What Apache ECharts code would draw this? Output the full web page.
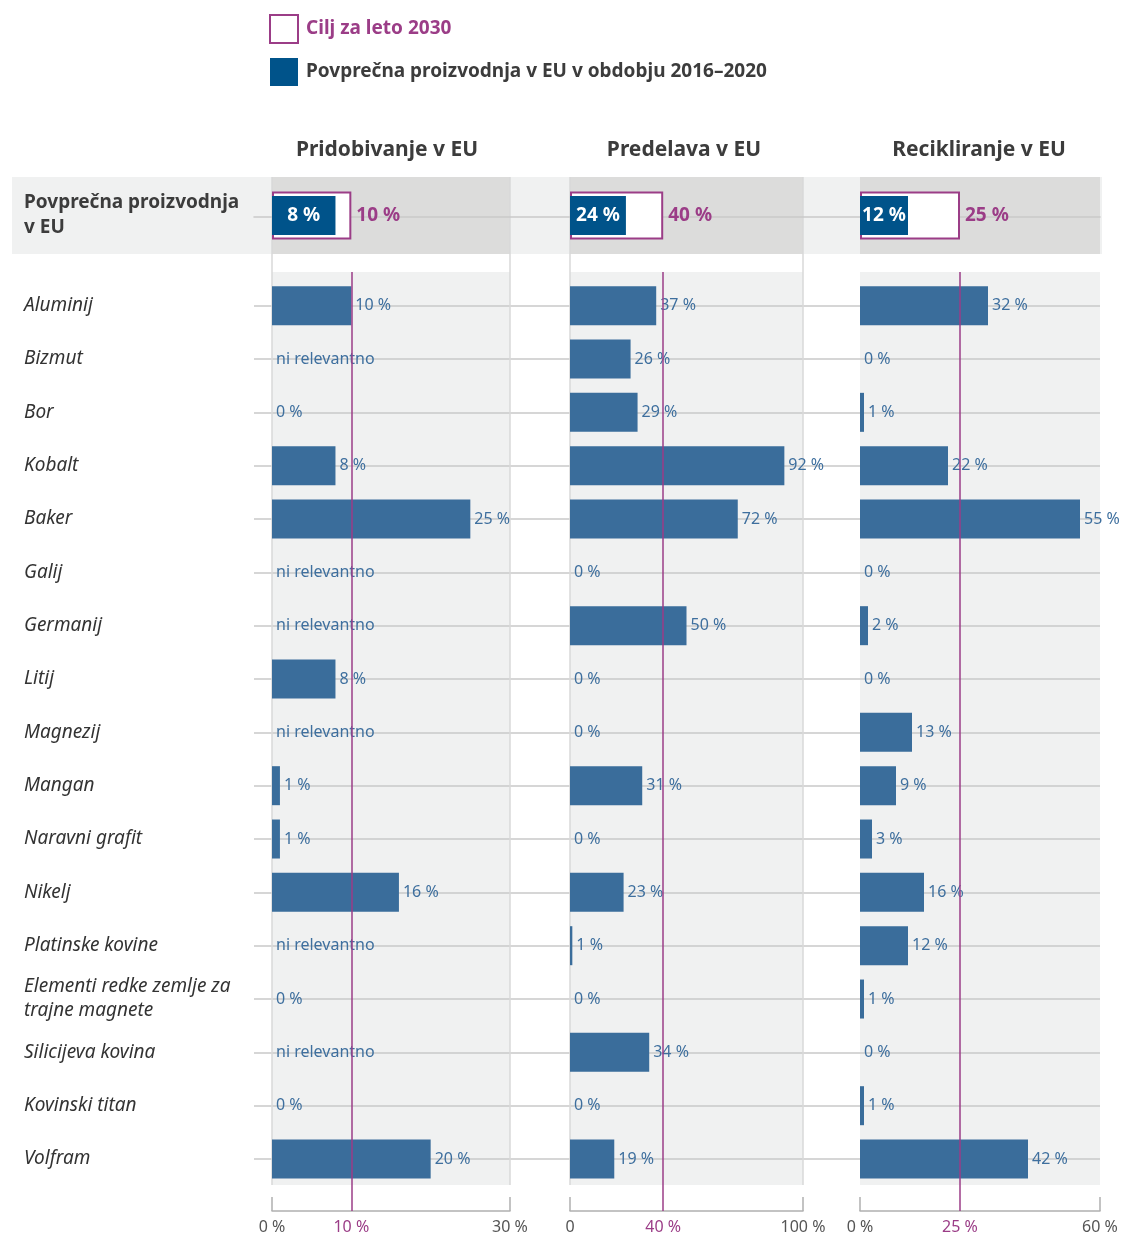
<!DOCTYPE html>
<html><head><meta charset="utf-8">
<script src="https://cdn.jsdelivr.net/npm/echarts@6/dist/echarts.min.js"></script>
<style>html,body{margin:0;padding:0;background:#fff}#c{width:1121px;height:1235px}</style>
</head><body><div id="c"></div>
<script>
// ---- data ----
const categories = ['Aluminij','Bizmut','Bor','Kobalt','Baker','Galij','Germanij','Litij','Magnezij','Mangan','Naravni grafit','Nikelj','Platinske kovine','Elementi redke zemlje za\ntrajne magnete','Silicijeva kovina','Kovinski titan','Volfram'];
const panelTitles = ['Pridobivanje v EU','Predelava v EU','Recikliranje v EU'];
const extraction = [10,null,0,8,25,null,null,8,null,1,1,16,null,0,null,0,20];
const processing = [37,26,29,92,72,0,50,0,0,31,0,23,1,0,34,0,19];
const recycling  = [32,0,1,22,55,0,2,0,13,9,3,16,12,1,0,1,42];
const avgProduction = [8,24,12];
const target2030 = [10,40,25];
const axisMax = [30,100,60];
const zeroLabels = ['0 %','0','0 %'];
const summaryLabel = 'Povprečna proizvodnja\nv EU';
const legendTarget = 'Cilj za leto 2030';
const legendAvg = 'Povprečna proizvodnja v EU v obdobju 2016–2020';
const naText = 'ni relevantno';
const panelData = [extraction, processing, recycling];

// ---- layout / style ----
const C = {purple:'#9b3d87', bar:'#3a6d9b', dark:'#00538a', label:'#3e6f9e', text:'#3c3c3c',
  light:'#f0f1f1', mid:'#dcdcdb', rule:'#c9c9c9', edge:'#d9d9d9', axis:'#b0b0b0', tick:'#555'};
const FONT = '"Noto Sans", sans-serif';
const panels = [{left:272,width:238,frame:true,tx:387},{left:570,width:233,frame:true,tx:684},{left:860,width:240,frame:false,tx:979}];

const grid=[], xAxis=[], yAxis=[], series=[];
function addGrid(g, x, y) {
  const gi = grid.length;
  grid.push(Object.assign({outerBoundsMode:'none', containLabel:false, show:false, borderWidth:0}, g));
  const xi = xAxis.length;
  xAxis.push(Object.assign({gridIndex:gi, type:'value', show:false}, x||{}));
  const yis = [];
  (Array.isArray(y)?y:[y||{}]).forEach(yo => { yis.push(yAxis.length); yAxis.push(Object.assign({gridIndex:gi, type:'value', show:false}, yo)); });
  return {gi, xi, yi:yis};
}
const off = {show:false};

// summary row light background
addGrid({left:12, width:1090, top:177, height:77, show:true, backgroundColor:C.light}, {min:0,max:1}, {min:0,max:1});

// summary grids (dark bg) + main bg
const summaryGrids = [];
panels.forEach((p,i) => {
  const M = axisMax[i];
  const s = addGrid({left:p.left, width:p.width, top:177, height:77, show:true, backgroundColor:C.mid},
    {min:0, max:M},
    [{type:'category', data:[summaryLabel], show:i===0, position:'left', axisLine:off, axisTick:off, splitLine:off,
      axisLabel:{show:i===0, align:'left', margin:248, fontFamily:FONT, fontSize:19, fontWeight:'bold', color:C.text, lineHeight:25}},
     {type:'category', data:[summaryLabel], show:false, position:'right'}]);
  summaryGrids.push(s);
  addGrid({left:p.left, width:p.width, top:272, height:913, show:true, backgroundColor:C.light}, {min:0,max:M}, {min:0,max:1});
});

// frame vertical edges
panels.forEach((p,i) => {
  if (!p.frame) return;
  const M = axisMax[i];
  addGrid({left:p.left, width:p.width, top:177, height:1008},
    {show:true, min:0, max:M, interval:M, axisLine:off, axisTick:off, axisLabel:off,
     splitLine:{show:true, lineStyle:{color:C.edge, width:1.5}}}, {min:0,max:1});
});

// summary horizontal rule
addGrid({left:254, width:846, top:216, height:1},
  {show:true, position:'top', min:0, max:1, axisLine:{show:true, lineStyle:{color:C.rule, width:1.5}}, axisTick:off, axisLabel:off, splitLine:off},
  {min:0,max:1});
// row rules
addGrid({left:254, width:846, top:305.7, height:853.3}, {min:0,max:1},
  {show:true, type:'category', boundaryGap:false, inverse:true, data:categories, axisLine:off, axisTick:off,
   axisLabel:{show:false, interval:0}, splitLine:{show:true, interval:0, lineStyle:{color:C.rule, width:1.5}}});

// summary bars
panels.forEach((p,i) => {
  const s = summaryGrids[i];
  series.push({type:'bar', name:legendTarget, xAxisIndex:s.xi, yAxisIndex:s.yi[0], data:[target2030[i]], barWidth:48, z:3, silent:true,
    itemStyle:{color:'#fff', borderColor:C.purple, borderWidth:2},
    label:{show:true, position:'right', distance:5, color:C.purple, fontFamily:FONT, fontSize:19, fontWeight:'bold', formatter:v=>v.value+' %'}});
  series.push({type:'bar', name:legendAvg, xAxisIndex:s.xi, yAxisIndex:s.yi[1], data:[avgProduction[i]], barWidth:39, z:4, silent:true,
    itemStyle:{color:C.dark},
    label:{show:true, position:'inside', color:'#fff', fontFamily:FONT, fontSize:19, fontWeight:'bold', formatter:v=>v.value+' %'}});
});

// bottom axes + target lines
panels.forEach((p,i) => {
  const M = axisMax[i], T = target2030[i];
  const a = addGrid({left:p.left, width:p.width, top:272, height:939},
    {show:true, min:0, max:M, position:'bottom',
     axisLine:{show:true, lineStyle:{color:C.axis, width:1.5}},
     axisTick:{show:true, customValues:[0,M], inside:true, length:14, lineStyle:{color:C.axis, width:1.5}},
     axisLabel:{show:true, customValues:[0,T,M], margin:8, color:C.tick, fontFamily:FONT, fontSize:16,
       formatter:v => v===T ? '{t|'+v+' %}' : (v===0 ? zeroLabels[i] : v+' %'),
       rich:{t:{color:C.purple, fontFamily:FONT, fontSize:16}}},
     splitLine:off},
    {min:0,max:1});
  series.push({type:'line', data:[], xAxisIndex:a.xi, yAxisIndex:a.yi[0], z:10, silent:true, showSymbol:false,
    markLine:{silent:true, symbol:['none','none'], label:{show:false}, animation:false,
      lineStyle:{color:C.purple, width:1.5, type:'solid'}, emphasis:{disabled:true}, data:[{xAxis:T}]}});
});

// row bars
panels.forEach((p,i) => {
  const M = axisMax[i];
  const r = addGrid({left:p.left, width:p.width, top:279, height:906.7},
    {min:0, max:M},
    {type:'category', inverse:true, data:categories, show:i===0, axisLine:off, axisTick:off, splitLine:off,
     axisLabel:{show:i===0, interval:0, align:'left', margin:248, fontFamily:FONT, fontSize:19, fontStyle:'italic', color:'#333', lineHeight:24}});
  series.push({type:'bar', xAxisIndex:r.xi, yAxisIndex:r.yi[0], barWidth:39, z:3, silent:true,
    data: panelData[i].map(v => v===null ? {value:0, na:true} : v),
    itemStyle:{color:C.bar},
    label:{show:true, position:'right', distance:4, color:C.label, fontFamily:FONT, fontSize:16,
      formatter:pp => (pp.data && pp.data.na) ? naText : pp.value+' %'}});
});

const option = {
  animation:false,
  legend:{left:264, top:9, orient:'vertical', itemWidth:28, itemHeight:28, itemGap:14, selectedMode:false, icon:'rect',
    textStyle:{fontFamily:FONT, fontSize:19, fontWeight:'bold', padding:[0,0,0,3]},
    data:[{name:legendTarget, itemStyle:{color:'#fff', borderColor:C.purple, borderWidth:2}, textStyle:{color:C.purple}},
          {name:legendAvg, itemStyle:{color:C.dark}, textStyle:{color:C.text}}]},
  graphic: panels.map((p,i) => ({type:'text', x:p.tx, y:150, silent:true,
    style:{text:panelTitles[i], align:'center', verticalAlign:'middle', textAlign:'center', textVerticalAlign:'middle',
      font:'bold 21px "Noto Sans", sans-serif', fill:C.text}})),
  grid, xAxis, yAxis, series
};
const chart = echarts.init(document.getElementById('c'), null, {renderer:'canvas'});
chart.setOption(option);
</script></body></html>
